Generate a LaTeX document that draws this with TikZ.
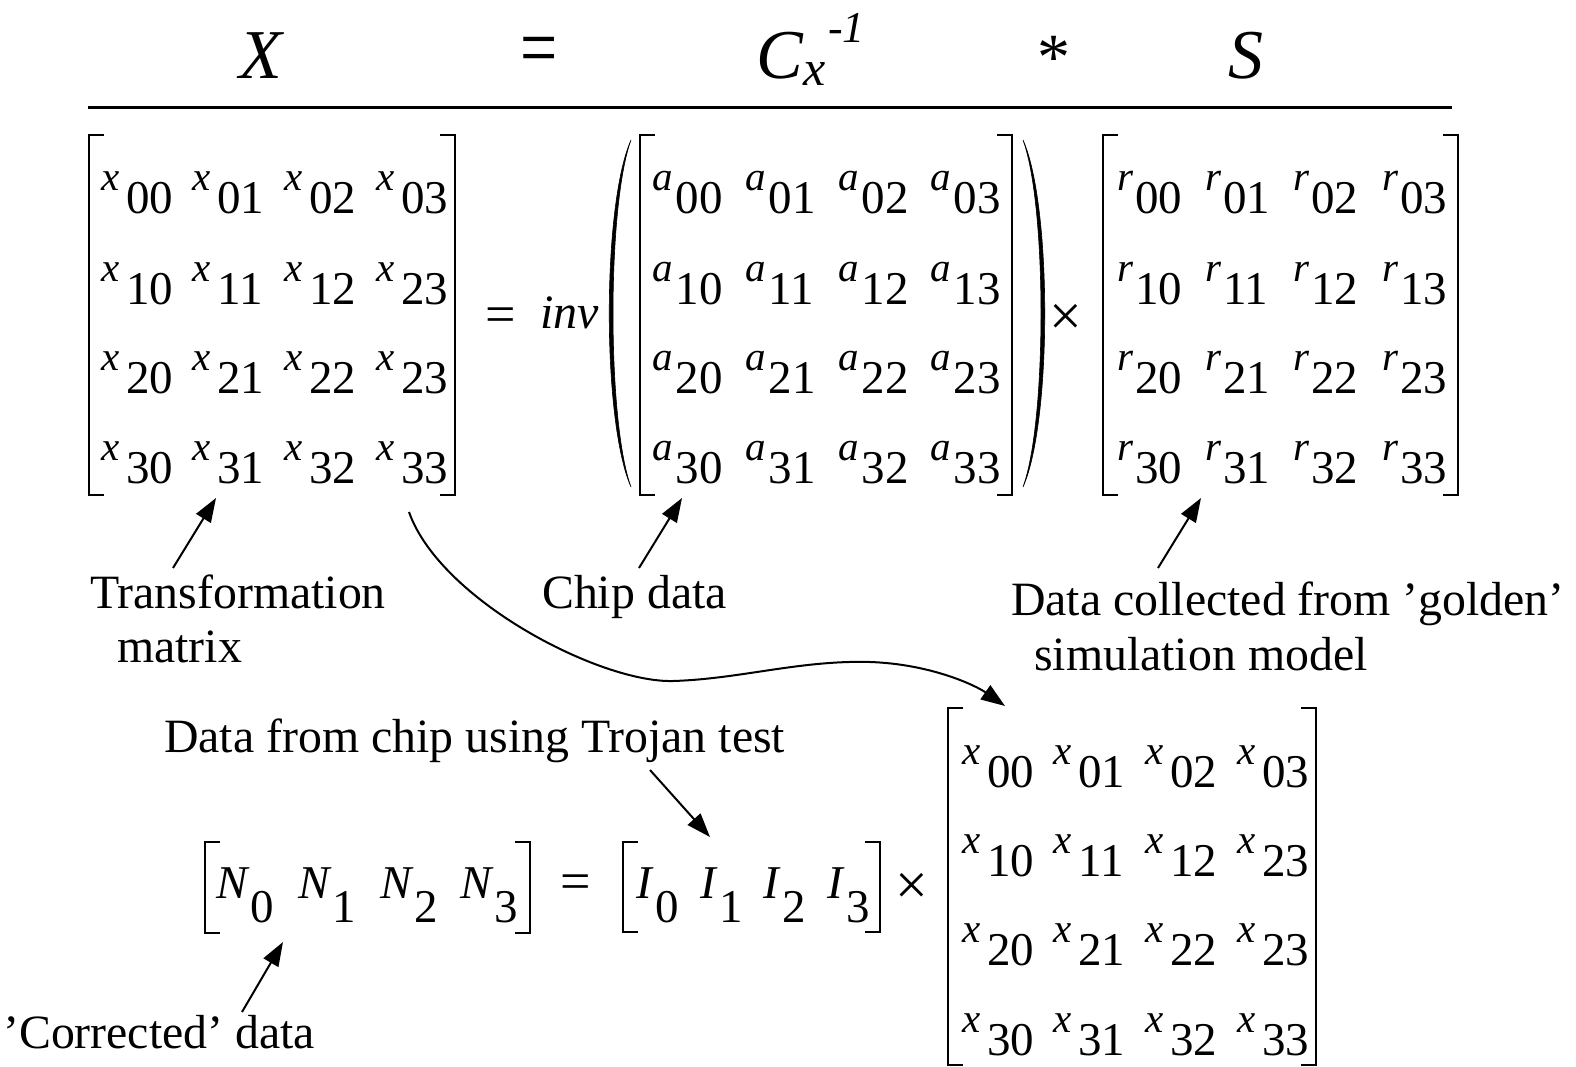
\documentclass[tikz,border=0pt]{standalone}
\usepackage{fontspec}
\setmainfont{Liberation Serif}
\usetikzlibrary{arrows.meta}

% matrix entry: smaller italic letter raised above full-size index digits
% optional argument: gap between letter and digits
\newcommand\ment[3][4pt]{\raisebox{23pt}{\fontsize{41}{44}\selectfont\itshape #2}\kern#1 #3}
% vector entry: capital letter at full size
\newcommand\vent[3][4pt]{\raisebox{24pt}{\itshape #2}\kern#1 #3}
% square bracket pair: left x, right x, top y, bottom y
\newcommand\sqbr[4]{%
  \draw[brk] ({#1+15},#3) -- (#1,#3) -- (#1,#4) -- ({#1+15},#4);
  \draw[brk] ({#2-15},#3) -- (#2,#3) -- (#2,#4) -- ({#2-15},#4);}

\begin{document}
\begin{tikzpicture}[x=1pt,y=-1pt,
  lbl/.style={font=\fontsize{47.8}{54}\selectfont, inner sep=0, anchor=base west},
  ent/.style={font=\fontsize{47}{52}\selectfont, inner sep=0, anchor=base west},
  hdr/.style={font=\fontsize{70}{76}\selectfont\itshape, inner sep=0, anchor=base},
  op/.style={font=\fontsize{54}{60}\selectfont, inner sep=0, anchor=center},
  brk/.style={line width=2pt, line join=miter},
  pnt/.style={line width=2pt, -{Triangle[length=24pt,width=17pt]}}]
\useasboundingbox (0,0) rectangle (1576,1067);

% ---------- header: X = C_x^{-1} * S ----------
\node[hdr] (hX) at (261,79) {X};
\node[font=\fontsize{66}{70}\selectfont, inner sep=0, anchor=center] (hEq) at (539,57) {\scalebox{1}[1.3]{=}};
\node[hdr, anchor=base west] (hC) at (756,79) {C};
\node[font=\fontsize{50}{56}\selectfont\itshape, inner sep=0, anchor=base west] (hCx) at (803,86) {x};
\node[font=\fontsize{44}{48}\selectfont\itshape, inner sep=0, anchor=base west] (hCe) at (828,43) {-1};
\node[font=\fontsize{66}{70}\selectfont, inner sep=0, anchor=base] (hMul) at (1054,80) {*};
\node[hdr] (hS) at (1246,79) {S};
\draw[line width=3pt] (88,108) -- (1452,108);

% ---------- transformation matrix X ----------
\foreach \r/\y in {0/214,1/304,2/393,3/483}{
  \ifnum\r=1
    \foreach \c/\x/\s in {0/101/10,1/192/11,2/284/12,3/376/23}
      \node[ent] (X-\r-\c) at (\x,\y) {\ment[7pt]{x}{\s}};
  \else
    \foreach \c/\x in {0/101,1/192,2/284,3/376}
      \node[ent] (X-\r-\c) at (\x,\y) {\ment[7pt]{x}{\r\c}};
  \fi
}
\sqbr{89}{455}{135}{495}

\node[op] (eqTop) at (501,320) {=};
\node[font=\fontsize{48}{52}\selectfont\itshape, inner sep=0, anchor=base west] (inv) at (540,328) {inv};

% ---------- chip data matrix A inside inv( ) ----------
\foreach \r/\y in {0/214,1/304,2/393,3/483}
  \foreach \c/\x in {0/652,1/745,2/838,3/930}
    \node[ent] (A-\r-\c) at (\x,\y) {\ment[3pt]{a}{\r\c}};
\sqbr{640}{1012}{135}{495}
\filldraw[line width=0.6pt] (631,140) .. controls (602,205) and (602,422) .. (631,487)
  .. controls (607,422) and (607,205) .. (631,140) -- cycle;
\filldraw[line width=0.6pt] (1023,140) .. controls (1052,205) and (1052,422) .. (1023,487)
  .. controls (1047,422) and (1047,205) .. (1023,140) -- cycle;

\node[font=\fontsize{58}{62}\selectfont, inner sep=0, anchor=center] (mulTop) at (1066,320) {×};

% ---------- golden model matrix R ----------
\foreach \r/\y in {0/214,1/304,2/393,3/483}
  \foreach \c/\x in {0/1117,1/1205,2/1293,3/1382}
    \node[ent] (R-\r-\c) at (\x,\y) {\ment[2pt]{r}{\r\c}};
\sqbr{1103}{1458}{135}{495}

% ---------- labels under the top equation ----------
\node[lbl] (lT) at (90,608) {Transformation};
\node[lbl] (lT2) at (117,662) {matrix};
\node[lbl] (lC) at (542,608) {Chip data};
\node[lbl] (lG) at (1011,615) {Data collected from ’golden’};
\node[lbl] (lG2) at (1034,670) {simulation model};

\coordinate (tT) at (173,568);  \coordinate (hT) at (216,498);
\coordinate (tC) at (639,568);  \coordinate (hCh) at (682,498);
\coordinate (tG) at (1158,568); \coordinate (hG) at (1201,498);
\draw[pnt] (tT) -- (hT);
\draw[pnt] (tC) -- (hCh);
\draw[pnt] (tG) -- (hG);

% ---------- bottom equation: N = I x X ----------
\foreach \c/\x in {0/216,1/298,2/380,3/460}
  \node[ent] (N-\c) at (\x,922) {\vent[3pt]{N}{\c}};
\sqbr{205}{530}{842}{933}
\node[op] (eqBot) at (576,887) {=};
\foreach \c/\x in {0/636,1/700,2/763,3/827}
  \node[ent] (I-\c) at (\x,922) {\vent[4pt]{I}{\c}};
\sqbr{623}{880}{842}{932}
\node[font=\fontsize{58}{62}\selectfont, inner sep=0, anchor=center] (mulBot) at (912,889) {×};

\foreach \r/\y in {0/787,1/876,2/965,3/1055}{
  \ifnum\r=1
    \foreach \c/\x/\s in {0/962/10,1/1053/11,2/1145/12,3/1237/23}
      \node[ent] (Y-\r-\c) at (\x,\y) {\ment[7pt]{x}{\s}};
  \else
    \foreach \c/\x in {0/962,1/1053,2/1145,3/1237}
      \node[ent] (Y-\r-\c) at (\x,\y) {\ment[7pt]{x}{\r\c}};
  \fi
}
\sqbr{948}{1316}{708}{1065}

\node[lbl] (lTro) at (164,752) {Data from chip using Trojan test};
\node[lbl] (lCor) at (3,1048) {’Corrected’ data};

\coordinate (tTro) at (650,770); \coordinate (hTro) at (710,837);
\coordinate (tCor) at (242,1012); \coordinate (hCor) at (283,942);
\draw[pnt] (tTro) -- (hTro);
\draw[pnt] (tCor) -- (hCor);

% transformation matrix carried down into the bottom equation
\coordinate (cs) at (409,512);
\coordinate (ce) at (1005,706);
\draw[pnt] (cs) .. controls (440,600) and (600,683) .. (673,681)
  .. controls (740,679) and (800,660) .. (870,662)
  .. controls (930,664) and (975,685) .. (ce);
\end{tikzpicture}
\end{document}
